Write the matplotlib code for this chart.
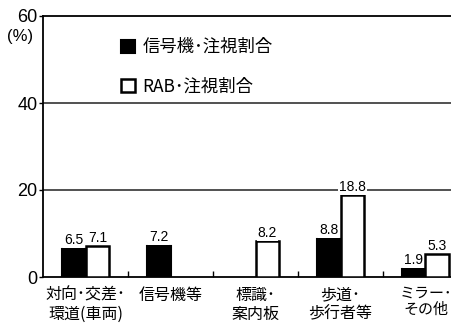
import numpy as np
import matplotlib
matplotlib.use("Agg")
import matplotlib.pyplot as plt
from matplotlib.patches import Patch

plt.rcParams['font.family'] = ['Noto Sans CJK JP', 'DejaVu Sans']

categories = ["対向･交差･\n環道(車両)", "信号機等", "標識･\n案内板", "歩道･\n歩行者等", "ミラー･\nその他"]
signal_share = [6.5, 7.2, np.nan, 8.8, 1.9]
rab_share = [7.1, np.nan, 8.2, 18.8, 5.3]
series_names = ["信号機･注視割合", "RAB･注視割合"]
y_ticks = [0, 20, 40, 60]

fig = plt.figure(figsize=(4.52, 3.26), dpi=100)
ax = fig.add_axes([43 / 452, 49 / 326, 1 - 43 / 452, (277 - 16) / 326])

x = np.arange(len(categories))
w = 0.28
num_font = 'Liberation Sans'

b1 = ax.bar(x - w / 2, signal_share, w, color='black', edgecolor='black', linewidth=1.5, zorder=3)
b2 = ax.bar(x + w / 2, rab_share, w, color='white', edgecolor='black', linewidth=1.8, zorder=3)

for bars, vals in ((b1, signal_share), (b2, rab_share)):
    for rect, v in zip(bars, vals):
        if np.isnan(v):
            continue
        ax.annotate(f"{v:.1f}", (rect.get_x() + rect.get_width() / 2, v),
                    xytext=(0, 1), textcoords='offset points', ha='center', va='bottom',
                    fontsize=10, family=num_font, zorder=5,
                    bbox=dict(boxstyle='square,pad=0.05', fc='white', ec='none'))

ax.set_xlim(-0.5, (452 - 43) / 85 - 0.5)
ax.set_ylim(0, 60)
ax.set_yticks(y_ticks)
ax.set_yticklabels([str(t) for t in y_ticks], family=num_font, fontsize=13)
ax.tick_params(axis='y', length=3, width=1, pad=1)

# category boundaries as small inward ticks on the baseline
ax.set_xticks(x[:-1] + 0.5)
ax.set_xticklabels([])
ax.tick_params(axis='x', direction='in', length=4, width=1)
for xi, lab in zip(x, categories):
    size = 11.5 if xi < len(categories) - 1 else 10.8
    ax.text(xi, -2.2, lab, ha='center', va='top', fontsize=size, linespacing=1.15)

for gy in (20, 40):
    ax.axhline(gy, color='#333333', lw=1.2, zorder=1)

for s in ('left', 'bottom', 'top'):
    ax.spines[s].set_linewidth(1.3)
ax.spines['right'].set_visible(False)

ax.text(-0.056, 0.92, "(%)", transform=ax.transAxes, ha='center', va='center',
        fontsize=12, family=num_font)

handles = [Patch(facecolor='black', edgecolor='black', linewidth=1.5),
           Patch(facecolor='white', edgecolor='black', linewidth=1.8)]
ax.legend(handles, series_names, loc='upper left', bbox_to_anchor=(0.19, 0.915),
          frameon=False, fontsize=12.5, handlelength=0.8, handleheight=0.8,
          handletextpad=0.45, labelspacing=1.25, borderpad=0, borderaxespad=0)

fig.savefig("out.png", dpi=100)
